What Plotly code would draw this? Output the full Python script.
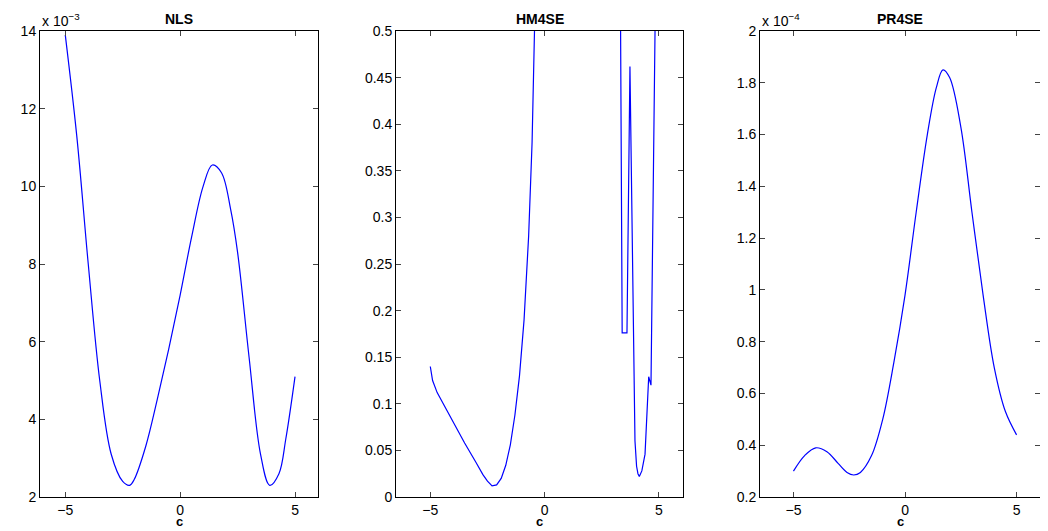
import plotly.graph_objects as go

nls_x = [-5, -4.5, -4, -3.5, -3, -2.5, -2.2, -2, -1.5, -1, -0.5, 0, 0.5, 1, 1.4, 1.8, 2.2, 2.5, 3, 3.5, 3.9, 4.3, 4.6, 5]
nls_y = [13.9, 11.3, 8.0, 5.0, 3.1, 2.4, 2.3, 2.45, 3.3, 4.5, 5.8, 7.2, 8.7, 10.0, 10.55, 10.35, 9.4, 8.3, 5.6, 3.1, 2.3, 2.6, 3.5, 5.1]

hm_x = [-5, -4.9, -4.7, -4.3, -4, -3.5, -3, -2.7, -2.5, -2.3, -2.1, -1.9, -1.7, -1.5, -1.3, -1.1, -0.9, -0.7, -0.55, -0.4, None,
        3.3, 3.39, 3.6, 3.73, 3.95, 4.02, 4.08, 4.14, 4.25, 4.39, 4.55, 4.65, 4.85]
hm_y = [0.14, 0.125, 0.112, 0.094, 0.08, 0.058, 0.037, 0.024, 0.017, 0.012, 0.013, 0.02, 0.034, 0.056, 0.088, 0.13, 0.19, 0.28, 0.38, 0.55, None,
        0.6, 0.176, 0.176, 0.462, 0.06, 0.033, 0.025, 0.022, 0.028, 0.046, 0.129, 0.12, 0.55]

pr_x = [-5, -4.5, -4, -3.5, -3, -2.6, -2.3, -2, -1.5, -1, -0.5, 0, 0.5, 1, 1.4, 1.7, 2, 2.5, 3, 3.5, 4, 4.5, 5]
pr_y = [0.30, 0.36, 0.39, 0.375, 0.33, 0.295, 0.285, 0.295, 0.36, 0.5, 0.72, 0.98, 1.3, 1.6, 1.78, 1.85, 1.82, 1.63, 1.3, 0.98, 0.7, 0.53, 0.44]

OFF = 8
W, H = 1048 - 2 * OFF, 531 - OFF
top, bot = 31 - OFF, 497 - OFF
panels = [
    dict(x=nls_x, y=nls_y, shape="spline", l=40, r=318, xr=[-6.1, 6.0], yr=[2, 14], yt=[2, 4, 6, 8, 10, 12, 14], title="NLS", exp="3"),
    dict(x=hm_x, y=hm_y, shape="linear", l=396, r=683, xr=[-6.5, 6.05], yr=[0, 0.5],
         yt=[0, 0.05, 0.1, 0.15, 0.2, 0.25, 0.3, 0.35, 0.4, 0.45, 0.5], title="HM4SE", exp=None),
    dict(x=pr_x, y=pr_y, shape="spline", l=760, r=1047, xr=[-6.5, 6.05], yr=[0.2, 2.0],
         yt=[0.2, 0.4, 0.6, 0.8, 1, 1.2, 1.4, 1.6, 1.8, 2], title="PR4SE", exp="4"),
]

fig = go.Figure()
font = dict(family="Liberation Sans, Arial, sans-serif", size=14, color="black")
cfont = dict(family="Liberation Sans, Arial, sans-serif", size=13, color="black")
annotations = []
for i, p in enumerate(panels, start=1):
    xa = "x" if i == 1 else f"x{i}"
    ya = "y" if i == 1 else f"y{i}"
    l, r = p["l"] - OFF, min(p["r"] - OFF, W)
    fig.add_trace(go.Scatter(x=p["x"], y=p["y"], mode="lines", xaxis=xa, yaxis=ya,
                             line=dict(color="#0000ff", width=1.2, shape=p["shape"], smoothing=1.0),
                             connectgaps=False, showlegend=False, cliponaxis=True))
    ax = dict(domain=[l / W, r / W], range=p["xr"], tickvals=[-5, 0, 5],
              ticktext=["\u22125", "0", "5"], ticks="inside", ticklen=5, mirror="allticks",
              showline=True, linecolor="black", linewidth=1, showgrid=False, zeroline=False,
              automargin=False, tickfont=font, anchor=ya)
    ay = dict(domain=[1 - bot / H, 1 - top / H], range=p["yr"], tickvals=p["yt"],
              ticks="inside", ticklen=5, mirror="allticks", showline=True, linecolor="black",
              linewidth=1, showgrid=False, zeroline=False, automargin=False, tickfont=font, anchor=xa)
    fig.update_layout(**{("xaxis" if i == 1 else f"xaxis{i}"): ax,
                         ("yaxis" if i == 1 else f"yaxis{i}"): ay})
    annotations.append(dict(text="<b>" + p["title"] + "</b>", x=(l + r) / 2 / W, y=1 - top / H,
                            xref="paper", yref="paper", xanchor="center", yanchor="bottom",
                            yshift=2, showarrow=False, font=font))
    annotations.append(dict(text="<b>c</b>", x=(l + r) / 2 / W, y=0,
                            xref="paper", yref="paper", xanchor="center", yanchor="bottom",
                            yshift=0, showarrow=False, font=cfont))
    if p["exp"]:
        annotations.append(dict(text="x 10<sup>\u2212" + p["exp"] + "</sup>", x=l / W,
                                y=1 - top / H, xref="paper", yref="paper", xanchor="left",
                                yanchor="bottom", yshift=0, showarrow=False, font=font))

fig.update_layout(width=W, height=H, margin=dict(l=0, r=0, t=0, b=0),
                  plot_bgcolor="white", paper_bgcolor="white", annotations=annotations, font=font)
fig.write_html("out.html")
